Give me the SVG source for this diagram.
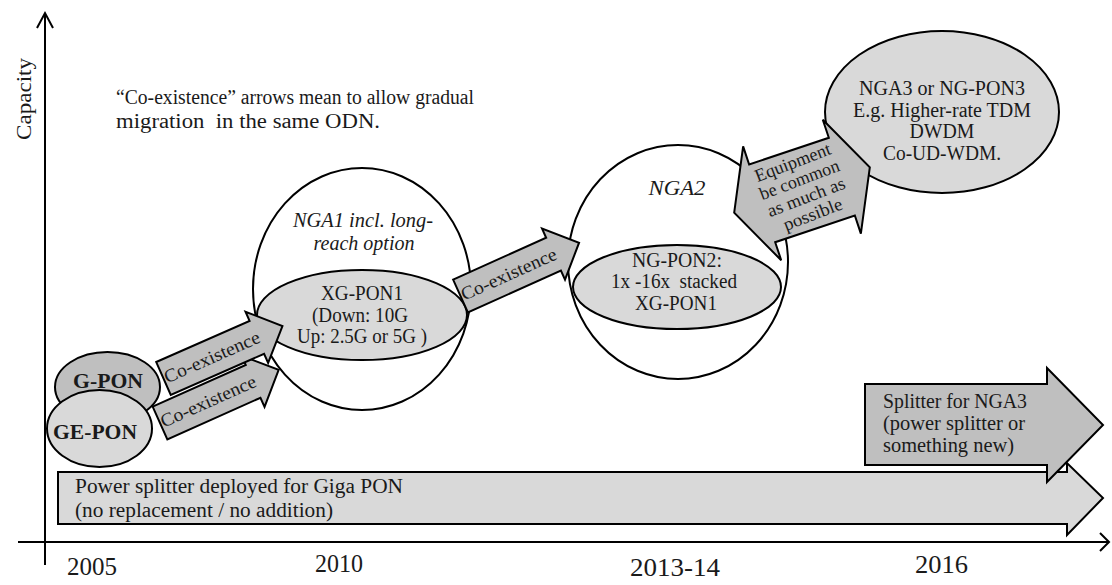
<svg xmlns="http://www.w3.org/2000/svg" width="1112" height="585" viewBox="0 0 1112 585">
<style>
  text { font-family: "Liberation Serif", "Times New Roman", serif; fill: #1a1a1a; font-size: 20px; }
  .mid { text-anchor: middle; }
  .it { font-style: italic; }
  .b { font-weight: bold; font-size: 21px; }
  .ln { fill: none; stroke: #000; stroke-width: 2; }
  .ring { fill: none; stroke: #000; stroke-width: 2; }
  .light { fill: #d9d9d9; stroke: #000; stroke-width: 2; }
  .dark { fill: #bfbfbf; stroke: #000; stroke-width: 2; }
  .yr { font-size: 25px; }
  .arr { font-size: 18.5px; }
  .eq { font-size: 18px; }
</style>
<defs>
  <!-- block arrow used for the "Co-existence" transitions, tail centre at origin -->
  <path id="coex-shape" d="M0,-18 H102 V-28 L130,0 L102,28 V18 H0 Z"/>
</defs>

<!-- axes -->
<g id="axes">
  <line class="ln" x1="45" y1="13" x2="45" y2="565"/>
  <polyline class="ln" points="37,28 45,13 53,28"/>
  <line class="ln" x1="18" y1="542" x2="1109" y2="542"/>
  <polyline class="ln" points="1100,533 1109,542 1100,551"/>
  <text transform="translate(31,99) rotate(-90)" class="mid" style="font-size:21px" textLength="82" lengthAdjust="spacingAndGlyphs">Capacity</text>
  <text class="yr" x="67" y="575" textLength="50" lengthAdjust="spacingAndGlyphs">2005</text>
  <text class="yr" x="315" y="572" textLength="48" lengthAdjust="spacingAndGlyphs">2010</text>
  <text class="yr" x="630" y="576" textLength="90" lengthAdjust="spacingAndGlyphs">2013-14</text>
  <text class="yr" x="915" y="573" textLength="53" lengthAdjust="spacingAndGlyphs">2016</text>
</g>

<!-- legend note -->
<g id="note">
  <text x="116" y="104" textLength="358" lengthAdjust="spacingAndGlyphs">“Co-existence” arrows mean to allow gradual</text>
  <text x="116" y="128" textLength="264" lengthAdjust="spacingAndGlyphs" xml:space="preserve">migration  in the same ODN.</text>
</g>

<!-- long-lived splitter bars -->
<g id="power-splitter">
  <path class="light" d="M58,472 H1067 V463 L1103,498 L1067,535 V524 H58 Z"/>
  <text x="75" y="493" textLength="328" lengthAdjust="spacingAndGlyphs">Power splitter deployed for Giga PON</text>
  <text x="75" y="517" textLength="258" lengthAdjust="spacingAndGlyphs">(no replacement / no addition)</text>
</g>
<g id="splitter-nga3">
  <path class="dark" d="M865,384 H1047 V368 L1103,425 L1047,482 V465 H865 Z"/>
  <text x="883" y="408" textLength="144" lengthAdjust="spacingAndGlyphs">Splitter for NGA3</text>
  <text x="883" y="430" textLength="142" lengthAdjust="spacingAndGlyphs">(power splitter or</text>
  <text x="883" y="452" textLength="131" lengthAdjust="spacingAndGlyphs">something new)</text>
</g>

<!-- generations -->
<g id="nga1">
  <ellipse class="ring" cx="362" cy="289" rx="109" ry="121"/>
  <text class="mid it" x="363" y="227" textLength="140" lengthAdjust="spacingAndGlyphs">NGA1 incl. long-</text>
  <text class="mid it" x="364" y="250" textLength="101" lengthAdjust="spacingAndGlyphs">reach option</text>
</g>
<g id="xg-pon1">
  <ellipse class="light" cx="362" cy="315" rx="105" ry="45"/>
  <text class="mid" x="362" y="300" textLength="82" lengthAdjust="spacingAndGlyphs">XG-PON1</text>
  <text class="mid" x="360" y="322" textLength="96" lengthAdjust="spacingAndGlyphs">(Down: 10G</text>
  <text class="mid" x="362" y="343" textLength="130" lengthAdjust="spacingAndGlyphs">Up: 2.5G or 5G )</text>
</g>
<g id="nga2">
  <ellipse class="ring" cx="678" cy="262" rx="110" ry="117"/>
  <text class="mid it" x="677" y="195" textLength="57" lengthAdjust="spacingAndGlyphs">NGA2</text>
</g>
<g id="ng-pon2">
  <ellipse class="light" cx="677" cy="287" rx="104" ry="42"/>
  <text class="mid" x="677" y="267" textLength="90" lengthAdjust="spacingAndGlyphs">NG-PON2:</text>
  <text class="mid" x="674" y="288" textLength="126" lengthAdjust="spacingAndGlyphs" xml:space="preserve">1x -16x  stacked</text>
  <text class="mid" x="676" y="310" textLength="82" lengthAdjust="spacingAndGlyphs">XG-PON1</text>
</g>
<g id="nga3">
  <ellipse class="light" cx="942" cy="112" rx="117" ry="81"/>
  <text class="mid" x="942" y="95" textLength="166" lengthAdjust="spacingAndGlyphs">NGA3 or NG-PON3</text>
  <text class="mid" x="942" y="117" textLength="178" lengthAdjust="spacingAndGlyphs">E.g. Higher-rate TDM</text>
  <text class="mid" x="942" y="138" textLength="65" lengthAdjust="spacingAndGlyphs">DWDM</text>
  <text class="mid" x="942" y="160" textLength="118" lengthAdjust="spacingAndGlyphs">Co-UD-WDM.</text>
</g>
<g id="g-pon">
  <ellipse class="dark" cx="107.5" cy="387" rx="52.5" ry="35"/>
  <text class="mid b" x="108" y="388" textLength="70" lengthAdjust="spacingAndGlyphs">G-PON</text>
</g>
<g id="ge-pon">
  <ellipse class="light" cx="99.5" cy="428.5" rx="52.5" ry="38.5"/>
  <text class="mid b" x="95" y="439" textLength="84" lengthAdjust="spacingAndGlyphs">GE-PON</text>
</g>

<!-- transitions between generations -->
<g id="connectors">
  <g id="coex-gepon" transform="translate(160,423) rotate(-24.1)">
    <use href="#coex-shape" class="dark"/>
    <text class="mid arr" x="53" y="6" textLength="103" lengthAdjust="spacingAndGlyphs">Co-existence</text>
  </g>
  <g id="coex-gpon" transform="translate(163.5,378.5) rotate(-23.8)">
    <use href="#coex-shape" class="dark"/>
    <text class="mid arr" x="53" y="6" textLength="103" lengthAdjust="spacingAndGlyphs">Co-existence</text>
  </g>
  <g id="coex-xgpon1" transform="translate(460.5,296) rotate(-24.2)">
    <use href="#coex-shape" class="dark"/>
    <text class="mid arr" x="53" y="6" textLength="103" lengthAdjust="spacingAndGlyphs">Co-existence</text>
  </g>
  <g id="common-equipment">
    <path class="dark" transform="translate(802,190) rotate(-18.5)"
          d="M-71.5,0 L-42,-60 V-41 H42 V-60 L71.5,0 L42,60 V41 H-42 V60 Z"/>
    <g transform="translate(803,189) rotate(-21)">
      <text class="mid eq" x="0" y="-22.5" textLength="80" lengthAdjust="spacingAndGlyphs">Equipment</text>
      <text class="mid eq" x="0" y="-4" textLength="84" lengthAdjust="spacingAndGlyphs">be common</text>
      <text class="mid eq" x="0" y="14.5" textLength="82" lengthAdjust="spacingAndGlyphs">as much as</text>
      <text class="mid eq" x="0" y="33" textLength="62" lengthAdjust="spacingAndGlyphs">possible</text>
    </g>
  </g>
</g>
</svg>
